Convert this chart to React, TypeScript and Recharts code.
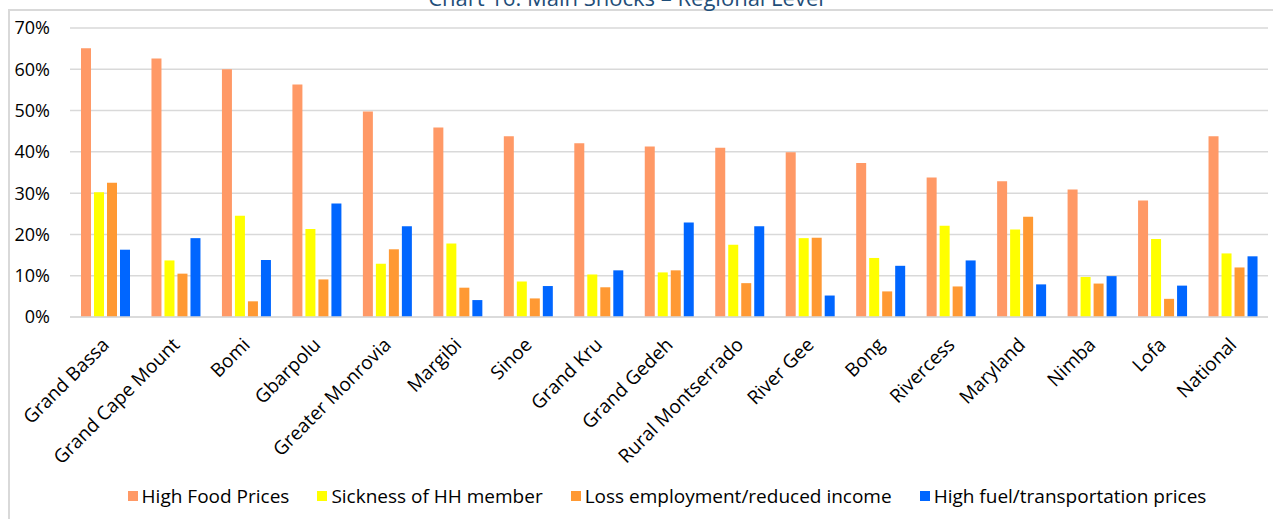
import React from 'react';
import { BarChart, Bar, XAxis, YAxis, CartesianGrid, Legend } from 'recharts';

const regions = [
  'Grand Bassa', 'Grand Cape Mount', 'Bomi', 'Gbarpolu', 'Greater Monrovia', 'Margibi', 'Sinoe',
  'Grand Kru', 'Grand Gedeh', 'Rural Montserrado', 'River Gee', 'Bong', 'Rivercess', 'Maryland',
  'Nimba', 'Lofa', 'National',
];
const highFood = [65.1, 62.6, 60.0, 56.3, 49.8, 45.9, 43.8, 42.1, 41.3, 41.0, 39.9, 37.3, 33.8, 32.9, 30.9, 28.2, 43.8];
const sickness = [30.2, 13.7, 24.5, 21.3, 12.9, 17.8, 8.6, 10.3, 10.8, 17.5, 19.1, 14.3, 22.1, 21.2, 9.7, 18.9, 15.4];
const lossEmployment = [32.5, 10.5, 3.8, 9.1, 16.4, 7.1, 4.5, 7.2, 11.3, 8.2, 19.2, 6.2, 7.4, 24.3, 8.1, 4.4, 12.0];
const highFuel = [16.3, 19.1, 13.8, 27.5, 22.0, 4.1, 7.5, 11.3, 22.9, 22.0, 5.2, 12.4, 13.7, 7.9, 9.9, 7.6, 14.7];
const yTicks = [0, 10, 20, 30, 40, 50, 60, 70];

const series = [
  { key: 'food', name: 'High Food Prices', color: '#FF9966' },
  { key: 'sick', name: 'Sickness of HH member', color: '#FFFF00' },
  { key: 'loss', name: 'Loss employment/reduced income', color: '#FF9933' },
  { key: 'fuel', name: 'High fuel/transportation prices', color: '#0066FF' },
];

const data = regions.map((r, i) => ({
  region: r,
  food: highFood[i],
  sick: sickness[i],
  loss: lossEmployment[i],
  fuel: highFuel[i],
}));

const FONT = '"Open Sans", "Noto Sans", sans-serif';

function XTick({ x, y, payload }: any) {
  return (
    <g transform={`translate(${x + 5},${y + 27})`}>
      <text transform="rotate(-45)" textAnchor="end" fontSize={19} fill="#000" fontFamily={FONT}>
        {payload.value}
      </text>
    </g>
  );
}

function LegendContent() {
  return (
    <div style={{ display: 'flex', justifyContent: 'center', paddingLeft: 66, fontFamily: FONT, fontSize: 19, color: '#000' }}>
      {series.map((s) => (
        <div key={s.key} style={{ display: 'flex', alignItems: 'center', margin: '0 14px' }}>
          <span style={{ display: 'inline-block', width: 10, height: 10, background: s.color, marginRight: 4 }} />
          <span>{s.name}</span>
        </div>
      ))}
    </div>
  );
}

export default function App() {
  return (
    <div style={{ position: 'absolute', left: 0, top: 0, width: 1273, height: 519, overflow: 'hidden', background: '#fff' }}>
      <div
        style={{
          position: 'absolute', left: 8, top: 9, width: 1300, height: 600,
          borderTop: '2px solid #D9D9D9', borderLeft: '2px solid #D9D9D9',
        }}
      />
      <div
        style={{
          position: 'absolute', left: 0, width: 1252, top: -14, textAlign: 'center',
          fontFamily: FONT, fontSize: 22, lineHeight: '22px', color: '#1F4E79',
        }}
      >
        Chart 16: Main Shocks – Regional Level
      </div>
      <div style={{ position: 'absolute', left: 0, top: 0 }}>
        <BarChart
          width={1273}
          height={519}
          data={data}
          margin={{ top: 28, right: 5, left: 0, bottom: 6 }}
          barSize={10}
          barGap={3}
        >
          <CartesianGrid vertical={false} stroke="#D9D9D9" strokeWidth={1.5} />
          <XAxis
            dataKey="region"
            interval={0}
            height={166}
            tick={<XTick />}
            tickLine={false}
            tickSize={0}
            axisLine={{ stroke: '#D9D9D9', strokeWidth: 1.5 }}
          />
          <YAxis
            width={70}
            domain={[0, 70]}
            ticks={yTicks}
            tickFormatter={(v) => `${v}%`}
            axisLine={false}
            tickLine={false}
            tickSize={0}
            tickMargin={20}
            tick={{ fontSize: 18, fill: '#000', fontFamily: FONT }}
          />
          <Legend verticalAlign="bottom" height={30} content={<LegendContent />} />
          {series.map((s) => (
            <Bar key={s.key} dataKey={s.key} name={s.name} fill={s.color} isAnimationActive={false} />
          ))}
        </BarChart>
      </div>
    </div>
  );
}
